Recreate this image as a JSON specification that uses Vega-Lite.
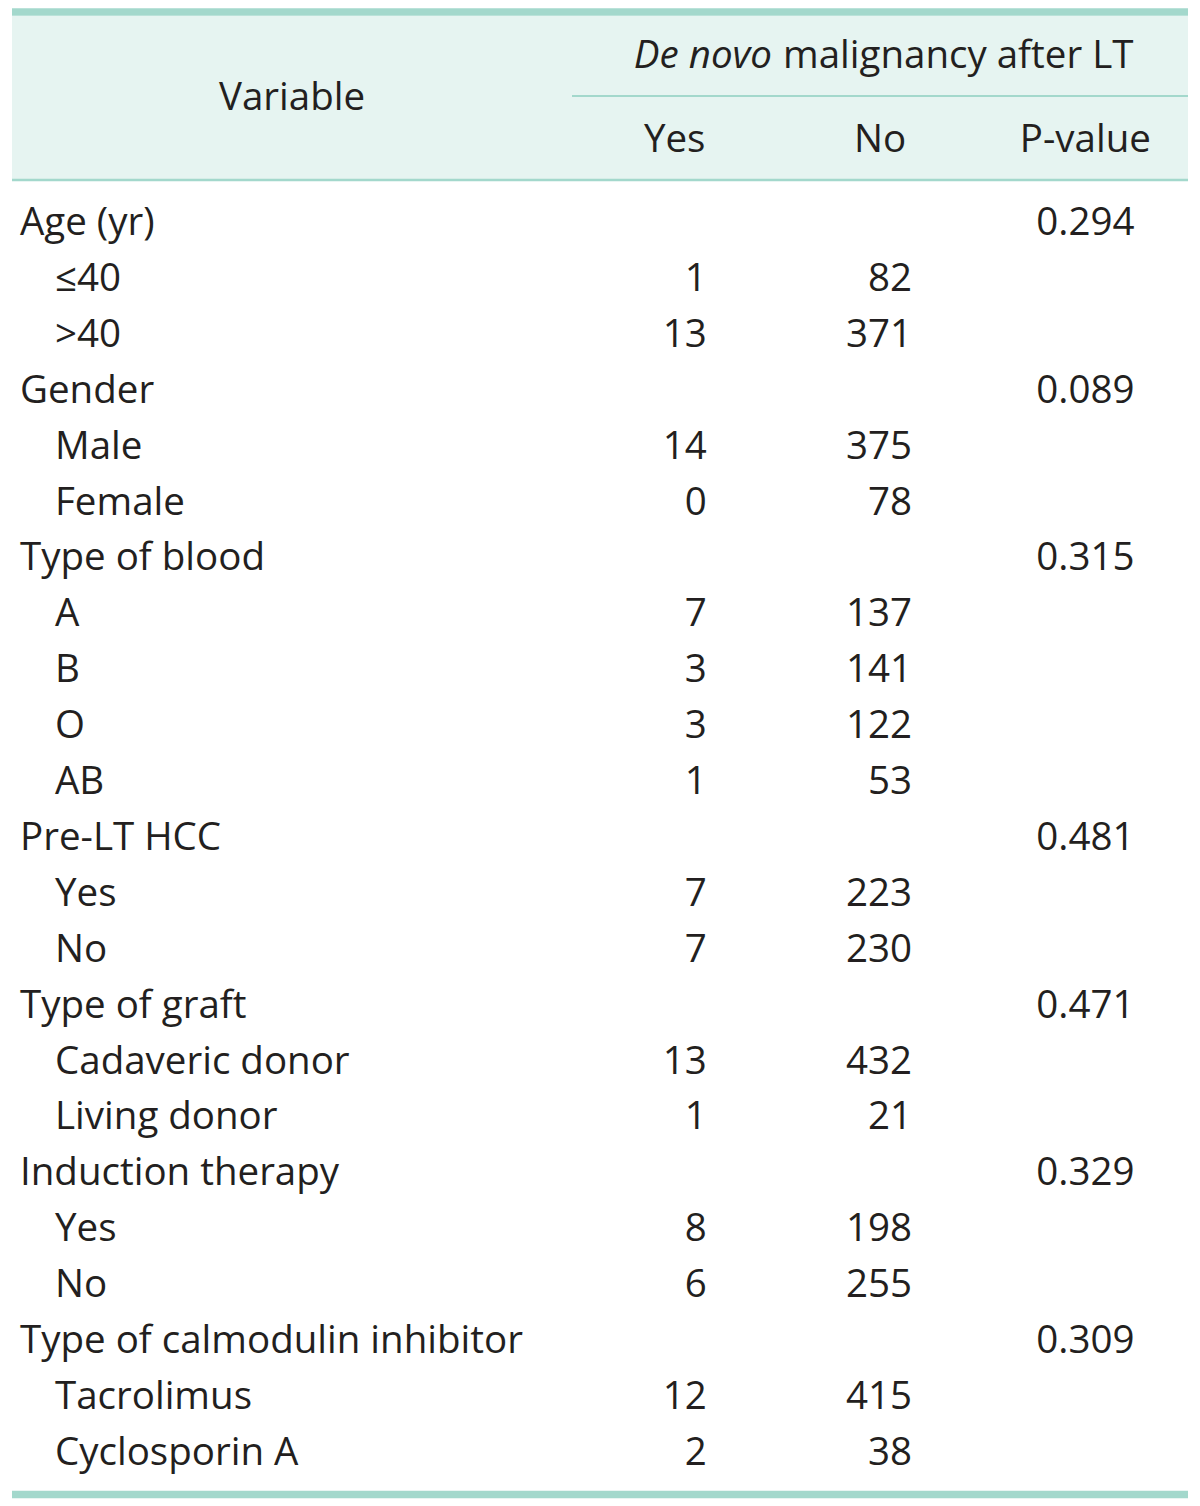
{
  "$schema": "https://vega.github.io/schema/vega-lite/v6.json",
  "width": 1200,
  "height": 1506,
  "autosize": {"type": "fit", "contains": "padding"},
  "padding": 0,
  "background": "white",
  "config": {
    "view": {"stroke": null},
    "text": {"font": "Open Sans", "fontSize": 38.5, "color": "#231f20", "baseline": "alphabetic"}
  },
  "resolve": {"scale": {"x": "independent"}},
  "data": {"values": [
    {"r": 1, "variable": "Age (yr)", "level": 0, "P-value": "0.294"},
    {"r": 2, "variable": "≤40", "level": 1, "Yes": 1, "No": 82},
    {"r": 3, "variable": ">40", "level": 1, "Yes": 13, "No": 371},
    {"r": 4, "variable": "Gender", "level": 0, "P-value": "0.089"},
    {"r": 5, "variable": "Male", "level": 1, "Yes": 14, "No": 375},
    {"r": 6, "variable": "Female", "level": 1, "Yes": 0, "No": 78},
    {"r": 7, "variable": "Type of blood", "level": 0, "P-value": "0.315"},
    {"r": 8, "variable": "A", "level": 1, "Yes": 7, "No": 137},
    {"r": 9, "variable": "B", "level": 1, "Yes": 3, "No": 141},
    {"r": 10, "variable": "O", "level": 1, "Yes": 3, "No": 122},
    {"r": 11, "variable": "AB", "level": 1, "Yes": 1, "No": 53},
    {"r": 12, "variable": "Pre-LT HCC", "level": 0, "P-value": "0.481"},
    {"r": 13, "variable": "Yes", "level": 1, "Yes": 7, "No": 223},
    {"r": 14, "variable": "No", "level": 1, "Yes": 7, "No": 230},
    {"r": 15, "variable": "Type of graft", "level": 0, "P-value": "0.471"},
    {"r": 16, "variable": "Cadaveric donor", "level": 1, "Yes": 13, "No": 432},
    {"r": 17, "variable": "Living donor", "level": 1, "Yes": 1, "No": 21},
    {"r": 18, "variable": "Induction therapy", "level": 0, "P-value": "0.329"},
    {"r": 19, "variable": "Yes", "level": 1, "Yes": 8, "No": 198},
    {"r": 20, "variable": "No", "level": 1, "Yes": 6, "No": 255},
    {"r": 21, "variable": "Type of calmodulin inhibitor", "level": 0, "P-value": "0.309"},
    {"r": 22, "variable": "Tacrolimus", "level": 1, "Yes": 12, "No": 415},
    {"r": 23, "variable": "Cyclosporin A", "level": 1, "Yes": 2, "No": 38}
  ]},
  "layer": [
    {
      "data": {"values": [{}]},
      "mark": {"type": "rect", "color": "#e6f4f1"},
      "encoding": {
        "x": {"value": 12}, "x2": {"value": 1188},
        "y": {"datum": -2.92, "type": "quantitative", "scale": {"domain": [-3.204, 23.737], "reverse": true, "nice": false, "zero": false}, "axis": null},
        "y2": {"datum": 0.016}
      }
    },
    {
      "data": {"values": [{}]},
      "mark": {"type": "rule", "color": "#a3d8cc", "strokeWidth": 7.5},
      "encoding": {
        "x": {"value": 12}, "x2": {"value": 1188},
        "y": {"datum": -2.989, "type": "quantitative", "scale": {"domain": [-3.204, 23.737], "reverse": true, "nice": false, "zero": false}, "axis": null}
      }
    },
    {
      "data": {"values": [{}]},
      "mark": {"type": "rule", "color": "#a3d8cc", "strokeWidth": 2},
      "encoding": {
        "x": {"value": 572}, "x2": {"value": 1188},
        "y": {"datum": -1.487, "type": "quantitative", "scale": {"domain": [-3.204, 23.737], "reverse": true, "nice": false, "zero": false}, "axis": null}
      }
    },
    {
      "data": {"values": [{}]},
      "mark": {"type": "rule", "color": "#a3d8cc", "strokeWidth": 2.5},
      "encoding": {
        "x": {"value": 12}, "x2": {"value": 1188},
        "y": {"datum": 0.016, "type": "quantitative", "scale": {"domain": [-3.204, 23.737], "reverse": true, "nice": false, "zero": false}, "axis": null}
      }
    },
    {
      "data": {"values": [{}]},
      "mark": {"type": "rule", "color": "#a3d8cc", "strokeWidth": 7.5},
      "encoding": {
        "x": {"value": 12}, "x2": {"value": 1188},
        "y": {"datum": 23.531, "type": "quantitative", "scale": {"domain": [-3.204, 23.737], "reverse": true, "nice": false, "zero": false}, "axis": null}
      }
    },
    {
      "data": {"values": [{"h": "Variable"}]},
      "mark": {"type": "text", "align": "center"},
      "encoding": {
        "x": {"field": "h", "type": "nominal", "bandPosition": 0.5, "scale": {"type": "band", "domain": ["Variable"], "range": [12, 572], "padding": 0}, "axis": null},
        "y": {"datum": -1.236, "type": "quantitative", "scale": {"domain": [-3.204, 23.737], "reverse": true, "nice": false, "zero": false}, "axis": null},
        "text": {"field": "h"}
      }
    },
    {
      "data": {"values": [{"h": "Yes"}, {"h": "No"}, {"h": "P-value"}]},
      "mark": {"type": "text", "align": "center"},
      "encoding": {
        "x": {"field": "h", "type": "nominal", "bandPosition": 0.5, "scale": {"type": "band", "domain": ["Yes", "No", "P-value"], "range": [572, 1188], "padding": 0}, "axis": null},
        "y": {"datum": -0.485, "type": "quantitative", "scale": {"domain": [-3.204, 23.737], "reverse": true, "nice": false, "zero": false}, "axis": null},
        "text": {"field": "h"}
      }
    },
    {
      "data": {"values": [{"h": "De novo", "col": "No"}]},
      "mark": {"type": "text", "align": "right", "fontStyle": "italic", "dx": -108},
      "encoding": {
        "x": {"field": "col", "type": "nominal", "bandPosition": 0.5, "scale": {"type": "band", "domain": ["Yes", "No", "P-value"], "range": [572, 1188], "padding": 0}, "axis": null},
        "y": {"datum": -1.988, "type": "quantitative", "scale": {"domain": [-3.204, 23.737], "reverse": true, "nice": false, "zero": false}, "axis": null},
        "text": {"field": "h"}
      }
    },
    {
      "data": {"values": [{"h": "malignancy after LT", "col": "No"}]},
      "mark": {"type": "text", "align": "left", "dx": -97},
      "encoding": {
        "x": {"field": "col", "type": "nominal", "bandPosition": 0.5, "scale": {"type": "band", "domain": ["Yes", "No", "P-value"], "range": [572, 1188], "padding": 0}, "axis": null},
        "y": {"datum": -1.988, "type": "quantitative", "scale": {"domain": [-3.204, 23.737], "reverse": true, "nice": false, "zero": false}, "axis": null},
        "text": {"field": "h"}
      }
    },
    {
      "mark": {"type": "text", "align": "left"},
      "encoding": {
        "x": {"field": "level", "type": "ordinal", "scale": {"type": "point", "domain": [0, 1], "range": [20, 55], "padding": 0}, "axis": null},
        "y": {"field": "r", "type": "quantitative", "scale": {"domain": [-3.204, 23.737], "reverse": true, "nice": false, "zero": false}, "axis": null},
        "text": {"field": "variable"}
      }
    },
    {
      "transform": [
        {"fold": ["Yes", "No"], "as": ["key", "value"]},
        {"filter": "isValid(datum.value)"}
      ],
      "mark": {"type": "text", "align": "right"},
      "encoding": {
        "x": {"field": "key", "type": "nominal", "bandPosition": 0.656, "scale": {"type": "band", "domain": ["Yes", "No", "P-value"], "range": [572, 1188], "padding": 0}, "axis": null},
        "y": {"field": "r", "type": "quantitative", "scale": {"domain": [-3.204, 23.737], "reverse": true, "nice": false, "zero": false}, "axis": null},
        "text": {"field": "value", "type": "nominal"}
      }
    },
    {
      "transform": [
        {"fold": ["P-value"], "as": ["key", "value"]},
        {"filter": "isValid(datum.value)"}
      ],
      "mark": {"type": "text", "align": "center"},
      "encoding": {
        "x": {"field": "key", "type": "nominal", "bandPosition": 0.5, "scale": {"type": "band", "domain": ["Yes", "No", "P-value"], "range": [572, 1188], "padding": 0}, "axis": null},
        "y": {"field": "r", "type": "quantitative", "scale": {"domain": [-3.204, 23.737], "reverse": true, "nice": false, "zero": false}, "axis": null},
        "text": {"field": "value", "type": "nominal"}
      }
    }
  ]
}
